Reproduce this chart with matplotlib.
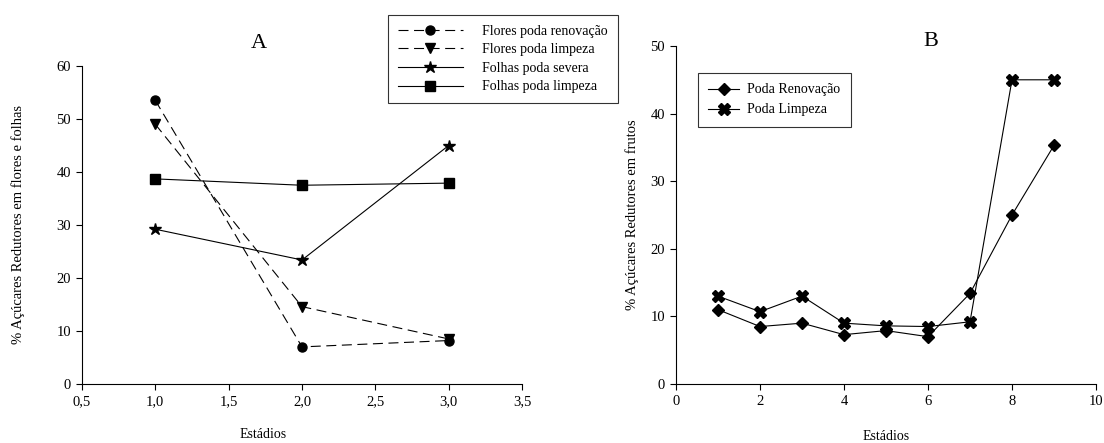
import matplotlib
matplotlib.use("Agg")
import matplotlib.pyplot as plt

plt.rcParams['font.family'] = ['Liberation Serif', 'DejaVu Serif']

# Panel A data
estadios_a = [1.0, 2.0, 3.0]
flores_renovacao = [53.5, 7.0, 8.2]
flores_limpeza = [49.0, 14.6, 8.5]
folhas_severa = [29.2, 23.4, 45.0]
folhas_limpeza = [38.7, 37.5, 37.9]
xticks_a = [0.5, 1.0, 1.5, 2.0, 2.5, 3.0, 3.5]
xticklabels_a = ['0,5', '1,0', '1,5', '2,0', '2,5', '3,0', '3,5']
yticks_a = [0, 10, 20, 30, 40, 50, 60]

# Panel B data
estadios_b = [1, 2, 3, 4, 5, 6, 7, 8, 9]
poda_renovacao = [11.0, 8.5, 9.0, 7.3, 7.9, 7.0, 13.4, 25.0, 35.3]
poda_limpeza = [13.0, 10.7, 13.0, 9.0, 8.6, 8.5, 9.2, 45.0, 45.0]
xticks_b = [0, 2, 4, 6, 8, 10]
yticks_b = [0, 10, 20, 30, 40, 50]

W, H = 1104, 443
fig = plt.figure(figsize=(W/100, H/100), dpi=100)

def ax_at(l, t, r, b):
    return fig.add_axes([l/W, 1 - b/H, (r-l)/W, (b-t)/H])

axA = ax_at(82, 66, 522, 384)
axB = ax_at(676, 46, 1096, 384)

for ax in (axA, axB):
    ax.spines['top'].set_visible(False)
    ax.spines['right'].set_visible(False)
    ax.spines['left'].set_linewidth(0.8)
    ax.spines['bottom'].set_linewidth(0.8)
    ax.tick_params(direction='out', length=4, width=0.8, labelsize=10.5,
                   colors='black', pad=4)

dash = (0, (9, 5))
axA.plot(estadios_a, flores_renovacao, color='black', lw=0.8, linestyle=dash,
         marker='o', markersize=6.5, label='Flores poda renovação')
axA.plot(estadios_a, flores_limpeza, color='black', lw=0.8, linestyle=dash,
         marker='v', markersize=7, label='Flores poda limpeza')
axA.plot(estadios_a, folhas_severa, color='black', lw=0.8, linestyle='-',
         marker='*', markersize=9, label='Folhas poda severa')
axA.plot(estadios_a, folhas_limpeza, color='black', lw=0.8, linestyle='-',
         marker='s', markersize=6.5, label='Folhas poda limpeza')
axA.set_xlim(0.5, 3.5)
axA.set_ylim(0, 60)
axA.set_xticks(xticks_a)
axA.set_xticklabels(xticklabels_a)
axA.set_yticks(yticks_a)
axA.set_xlabel('Estádios', fontsize=10)
axA.xaxis.set_label_coords((263 - 82) / 440, -(435 - 384) / 318)
axA.xaxis.label.set_va('center')
axA.set_ylabel('% Açúcares Redutores em flores e folhas', fontsize=10.5)
axA.yaxis.set_label_coords((18 - 82) / 440, 0.5)
axA.yaxis.label.set_va('center')
fig.text(259/W, 1 - 44/H, 'A', fontsize=16, ha='center', va='center')
legA = axA.legend(loc='upper left', bbox_to_anchor=(388/W, 1 - 15/H),
                  bbox_transform=fig.transFigure,
                  frameon=True, fancybox=False, edgecolor='black', fontsize=10,
                  handlelength=4.7, borderpad=0.7, labelspacing=0.4, handletextpad=1.4,
                  borderaxespad=0, markerscale=1.0)
legA.get_frame().set_linewidth(0.8)

axB.plot(estadios_b, poda_renovacao, color='black', lw=0.8, marker='D',
         markersize=6.5, label='Poda Renovação')
axB.plot(estadios_b, poda_limpeza, color='black', lw=0.8, marker='X',
         markersize=8, label='Poda Limpeza')
axB.set_xlim(0, 10)
axB.set_ylim(0, 50)
axB.set_xticks(xticks_b)
axB.set_yticks(yticks_b)
axB.set_xlabel('Estádios', fontsize=10)
axB.xaxis.set_label_coords((886 - 676) / 420, -(437 - 384) / 338)
axB.xaxis.label.set_va('center')
axB.set_ylabel('% Açúcares Redutores em frutos', fontsize=10.5)
axB.yaxis.set_label_coords((632 - 676) / 420, 0.5)
axB.yaxis.label.set_va('center')
fig.text(931/W, 1 - 42/H, 'B', fontsize=16, ha='center', va='center')
legB = axB.legend(loc='upper left', bbox_to_anchor=(698/W, 1 - 73/H),
                  bbox_transform=fig.transFigure,
                  frameon=True, fancybox=False, edgecolor='black', fontsize=10,
                  handlelength=2.2, borderpad=0.75, labelspacing=0.5, handletextpad=0.6,
                  borderaxespad=0)
legB.get_frame().set_linewidth(0.8)

fig.savefig('out.png', dpi=100)
